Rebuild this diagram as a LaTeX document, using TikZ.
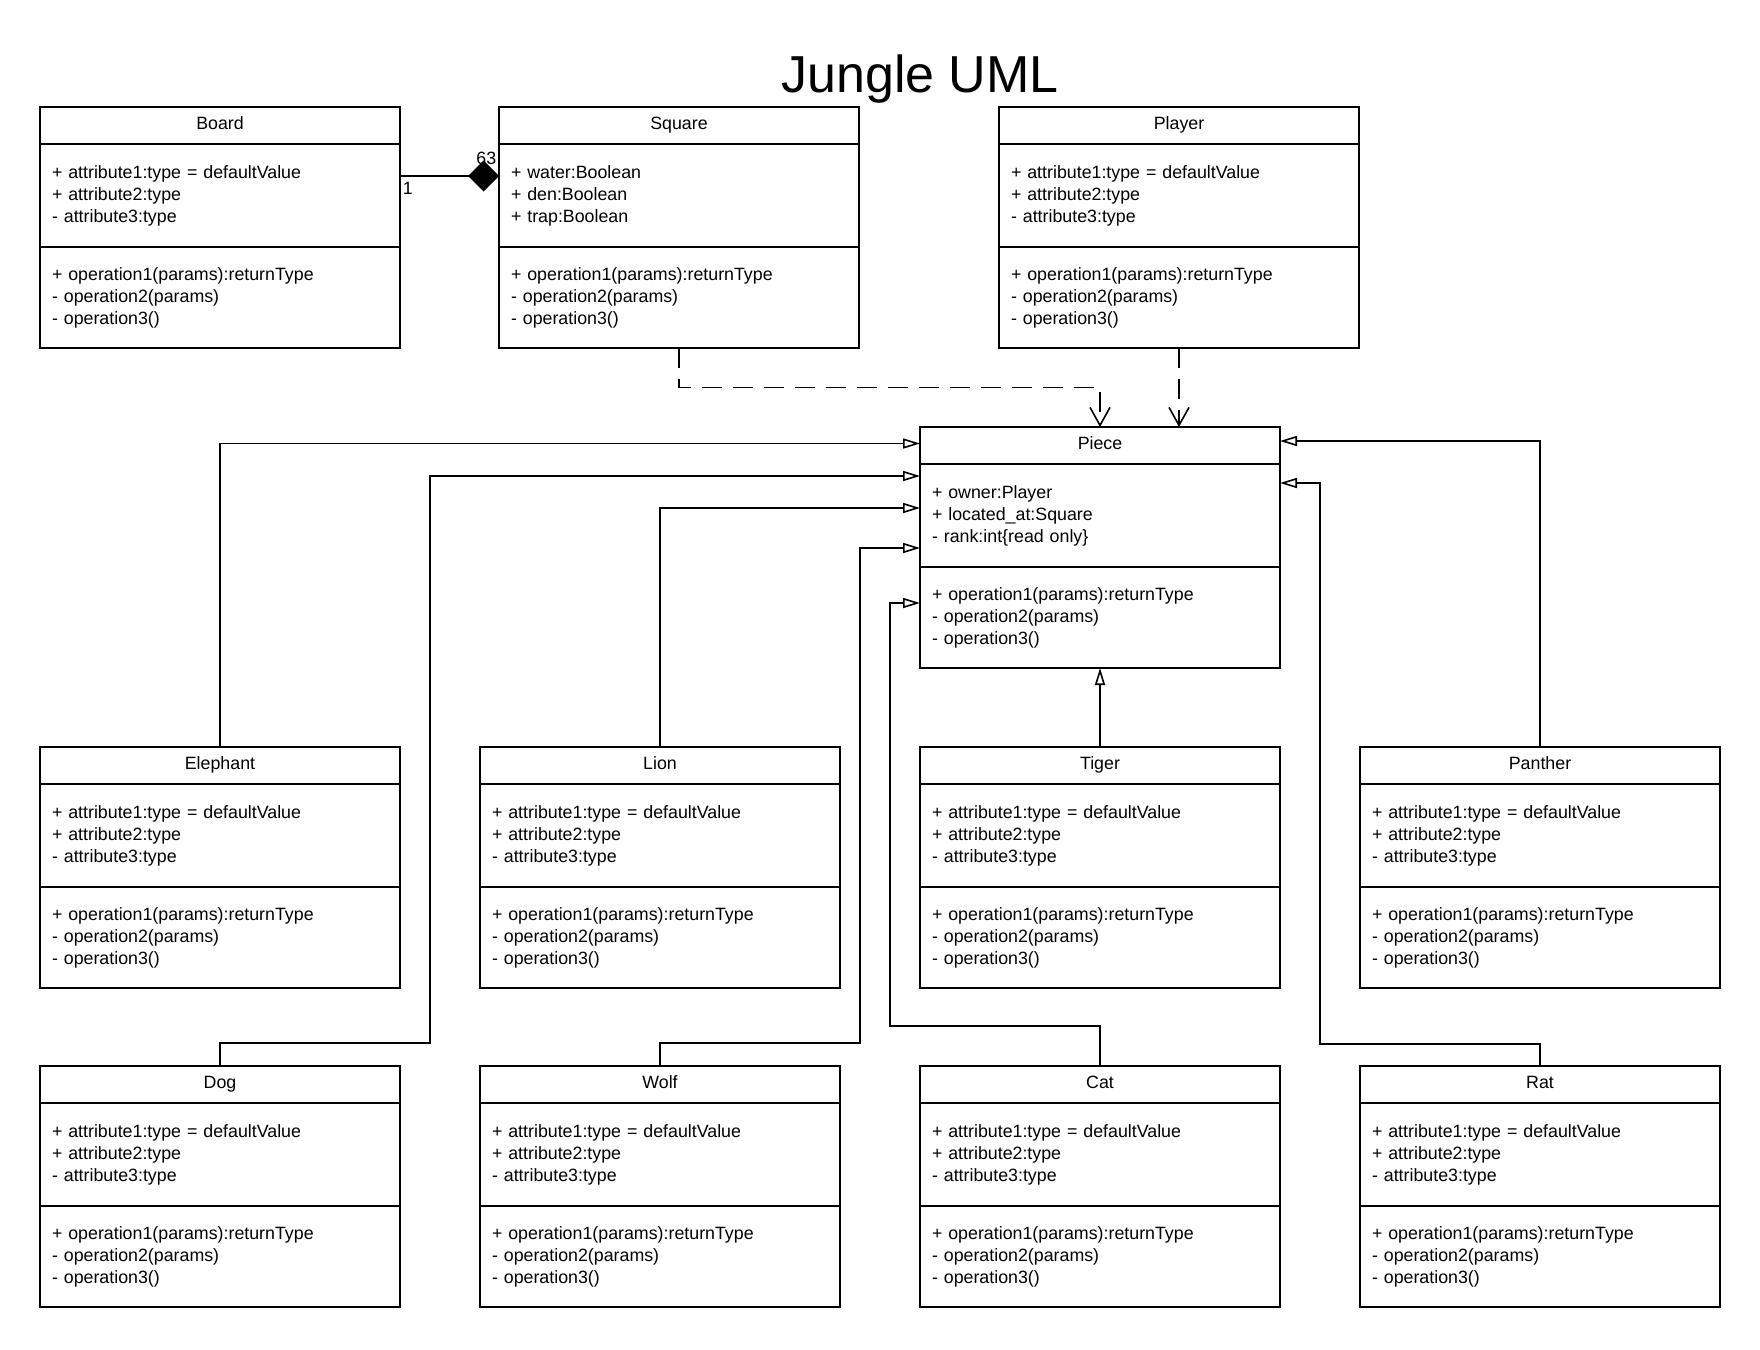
\documentclass[tikz,border=0pt]{standalone}
\usepackage{fontspec}
\setmainfont{Liberation Sans}
\usetikzlibrary{arrows.meta,positioning}

\begin{document}
\begin{tikzpicture}[
	x=0.5pt, y=-0.5pt, line width=0.8pt,
	txt/.style={ font=\fontsize{8.9pt}{11pt}\selectfont },
	head/.style={ txt, draw, anchor=north west, minimum width=180pt, minimum height=18.5pt, inner sep=0pt, outer sep=0pt, text height=6.4pt, text depth=2pt },
	attrs/.style={ txt, draw, text width=168pt, inner xsep=6pt, inner ysep=0pt, outer sep=0pt, minimum height=51.5pt, align=left },
	ops/.style={ attrs, minimum height=50.5pt },
	inh/.style={ -{Triangle[open,length=8.5pt,width=5pt]} },
	dep/.style={ dash pattern=on 10pt off 5.5pt, -{Straight Barb[length=9pt,width=10pt]} },
	comp/.style={ -{Diamond[length=15.5pt,width=15.5pt]} }
]
\useasboundingbox (0,0) rectangle (1760,1349);

\node at (920,92) (title) [anchor=base, font=\fontsize{26pt}{30pt}\selectfont] {Jungle UML};

% classes with the default members
\foreach \name/\title/\x/\y in {board/Board/40/107, player/Player/999/107,
	elephant/Elephant/40/747, lion/Lion/480/747, tiger/Tiger/920/747, panther/Panther/1360/747,
	dog/Dog/40/1066, wolf/Wolf/480/1066, cat/Cat/920/1066, rat/Rat/1360/1066} {
	\node at (\x,\y) (\name) [head] {\title};
	\node (\name-a) [attrs, below=0pt of \name] {+ attribute1:type = defaultValue\\+ attribute2:type\\- attribute3:type};
	\node (\name-o) [ops, below=0pt of \name-a] {+ operation1(params):returnType\\- operation2(params)\\- operation3()};
}

\node at (499,107) (square) [head] {Square};
\node (square-a) [attrs, below=0pt of square] {+ water:Boolean\\+ den:Boolean\\+ trap:Boolean};
\node (square-o) [ops, below=0pt of square-a] {+ operation1(params):returnType\\- operation2(params)\\- operation3()};

\node at (920,427) (piece) [head] {Piece};
\node (piece-a) [attrs, below=0pt of piece] {+ owner:Player\\+ located\_at:Square\\- rank:int\{read only\}};
\node (piece-o) [ops, below=0pt of piece-a] {+ operation1(params):returnType\\- operation2(params)\\- operation3()};

% board holds the squares
\draw[comp] ([yshift=9.75pt]board-a.east) to
	node[pos=0, anchor=north west, txt, inner sep=1pt, yshift=-1.5pt] {1}
	node[pos=1, anchor=base east, txt, inner sep=1pt, yshift=6pt] {63}
	([yshift=9.75pt]square-a.west);

% dependencies
\draw[dep] (square-o.south) -- ++(0,39.5) -| (piece.north);
\draw[dep] (player-o.south) -- (player-o.south |- piece.north);

% inheritance
\draw[inh] (elephant.north) |- ([yshift=1pt]piece.west);
\draw[inh] (dog.north) -- ++(0,-23) -- ++(210,0) |- ([yshift=19.75pt]piece-a.west);
\draw[inh] (lion.north) |- ([yshift=3.75pt]piece-a.west);
\draw[inh] (wolf.north) -- ++(0,-23) -- ++(200,0) |- ([yshift=-16.25pt]piece-a.west);
\draw[inh] (cat.north) -- ++(0,-40) -- ++(-210,0) |- ([yshift=7.25pt]piece-o.west);
\draw[inh] (tiger.north) -- (piece-o.south);
\draw[inh] (panther.north) |- ([yshift=2.25pt]piece.east);
\draw[inh] (rat.north) -- ++(0,-22) -- ++(-220,0) |- ([yshift=16.25pt]piece-a.east);

\end{tikzpicture}
\end{document}
